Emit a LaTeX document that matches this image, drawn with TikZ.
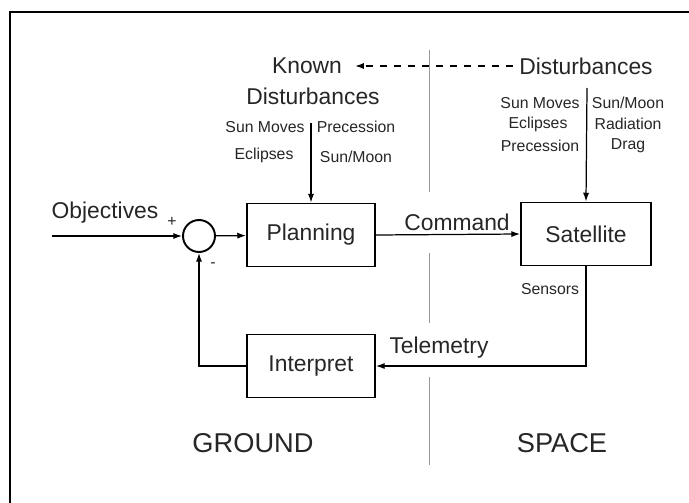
\documentclass[tikz,border=0pt]{standalone}
\usepackage{fontspec}
\setmainfont{Liberation Sans}
\usetikzlibrary{arrows.meta}

\begin{document}
\begin{tikzpicture}[x=0.02cm, y=-0.02cm, >={Latex[length=5pt,width=3.5pt]},
  every node/.style={font=\fontsize{13}{15}\selectfont, text=black!85},
  block/.style={draw, line width=1.1pt, minimum height=1.26cm},
  small/.style={font=\fontsize{9}{11}\selectfont},
  big/.style={font=\fontsize{15.5}{18}\selectfont},
  link/.style={draw, line width=0.7pt},
  divider/.style={draw=black!40, line width=0.5pt}]
  \useasboundingbox (0,0) rectangle (689,503);
  \draw[line width=1pt] (10,520) -- (10,12) -- (700,12);

  \node[block, minimum width=2.56cm] (plan) at (311,235) {Planning};
  \node[block, minimum width=2.6cm] (sat) at (586,234) {Satellite};
  \node[block, minimum width=2.56cm] (interp) at (311,366) {Interpret};
  \node[draw, circle, line width=1.1pt, minimum size=0.64cm, inner sep=0pt] (sum) at (199,236) {};
  \coordinate (obj) at (52,236);
  \node (objlbl) at (105,213) {Objectives};
  \node[small] (plus) at (172,222) {+};
  \node[small] (minus) at (213,265) {-};
  \node (cmd) at (457,222) {Command};
  \node (tele) at (439,348) {Telemetry};
  \node[small] (sens) at (550,289) {Sensors};

  \node (known) at (307,66) {Known};
  \node (kdist) at (313,96) {Disturbances};
  \node (dist) at (586,66) {Disturbances};
  \coordinate (ktop) at (311,123);
  \coordinate (dtop) at (587,88);
  \node[small] (ksun) at (265,127) {Sun Moves};
  \node[small] (kprec) at (356,127) {Precession};
  \node[small] (kecl) at (264,155) {Eclipses};
  \node[small] (kmoon) at (356,157) {Sun/Moon};
  \node[small] (dsun) at (540,103) {Sun Moves};
  \node[small] (decl) at (538,124) {Eclipses};
  \node[small] (dprec) at (540,146) {Precession};
  \node[small] (dmoon) at (628,103) {Sun/Moon};
  \node[small] (drad) at (628,124) {Radiation};
  \node[small] (ddrag) at (628,146) {Drag};

  \node[big] (ground) at (253,443) {GROUND};
  \node[big] (space) at (562,443) {SPACE};

  \draw[divider] (429,50) -- (429,192);
  \draw[divider] (429,253) -- (429,323);
  \draw[divider] (429,377) -- (429,465);

  \draw[link, ->] (obj) -- (sum);
  \draw[link, ->] (sum) -- (plan);
  \draw[link, ->] (plan.east) -- (sat.west);
  \draw[link, ->] (sat.south) |- (interp.east);
  \draw[link, ->] (interp.west) -| (sum.south);
  \draw[link, ->] (ktop) -- (plan.north);
  \draw[link, ->] (dtop) -- (sat.north);
  \draw[link, ->, dash pattern=on 4pt off 4pt, shorten >=4pt] (dist.west) -- (known.east);
\end{tikzpicture}
\end{document}
